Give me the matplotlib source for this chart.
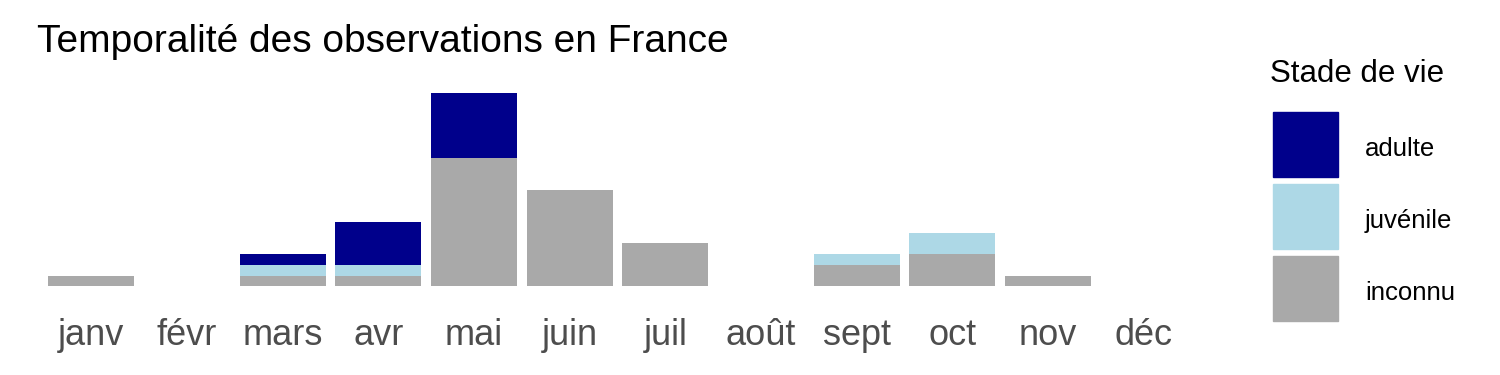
import matplotlib.pyplot as plt
import matplotlib.transforms as mtransforms
import numpy as np
from matplotlib.patches import Patch

plt.rcParams['font.family'] = ['Liberation Sans', 'DejaVu Sans']

# donnees
mois = ["janv", "févr", "mars", "avr", "mai", "juin", "juil", "août", "sept", "oct", "nov", "déc"]
inconnu = [1, 0, 1, 1, 12, 9, 4, 0, 2, 3, 1, 0]
juvenile = [0, 0, 1, 1, 0, 0, 0, 0, 1, 2, 0, 0]
adulte = [0, 0, 1, 4, 6, 0, 0, 0, 0, 0, 0, 0]

couleurs = {"adulte": "#00008B", "juvénile": "#ADD8E6", "inconnu": "#A9A9A9"}

fig = plt.figure(figsize=(15, 3.75), dpi=100)
ax = fig.add_axes([0.0227, 0.2107, 0.778, 0.5666])

x = np.arange(len(mois))
inc = np.array(inconnu)
juv = np.array(juvenile)
adu = np.array(adulte)

ax.bar(x, inc, width=0.9, color=couleurs["inconnu"])
ax.bar(x, juv, width=0.9, bottom=inc, color=couleurs["juvénile"])
ax.bar(x, adu, width=0.9, bottom=inc + juv, color=couleurs["adulte"])

total = (inc + juv + adu).max()
ax.set_xlim(-0.6, len(mois) - 0.4)
ax.set_ylim(-0.05 * total, total * 1.05)

ax.set_xticks(x)
ax.set_xticklabels(mois, fontsize=26, color="#4D4D4D")
ax.tick_params(axis="x", length=0, pad=16)
ax.set_yticks([])
for s in ax.spines.values():
    s.set_visible(False)

fig.text(0.0247, 0.887, "Temporalité des observations en France", fontsize=28, va="center", ha="left")

# titre de legende a part pour avoir l'ecart voulu
fig.text(0.8467, 0.803, "Stade de vie", fontsize=22.5, va="center", ha="left")

handles = [Patch(color=couleurs[k]) for k in ["adulte", "juvénile", "inconnu"]]
leg = fig.legend(handles, ["adulte", "juvénile", "inconnu"], loc="upper left",
                 bbox_to_anchor=(0.8487, 0.7013), frameon=False, fontsize=18.5,
                 handlelength=2.53, handleheight=3.515, labelspacing=0.27,
                 handletextpad=1.05, borderpad=0, borderaxespad=0)
# petit decalage vers le bas des libelles comme sur l'original
decal = mtransforms.ScaledTranslation(0, -4.5 / 100, fig.dpi_scale_trans)
for t in leg.get_texts():
    t.set_transform(t.get_transform() + decal)

fig.savefig("out.png", dpi=100)
